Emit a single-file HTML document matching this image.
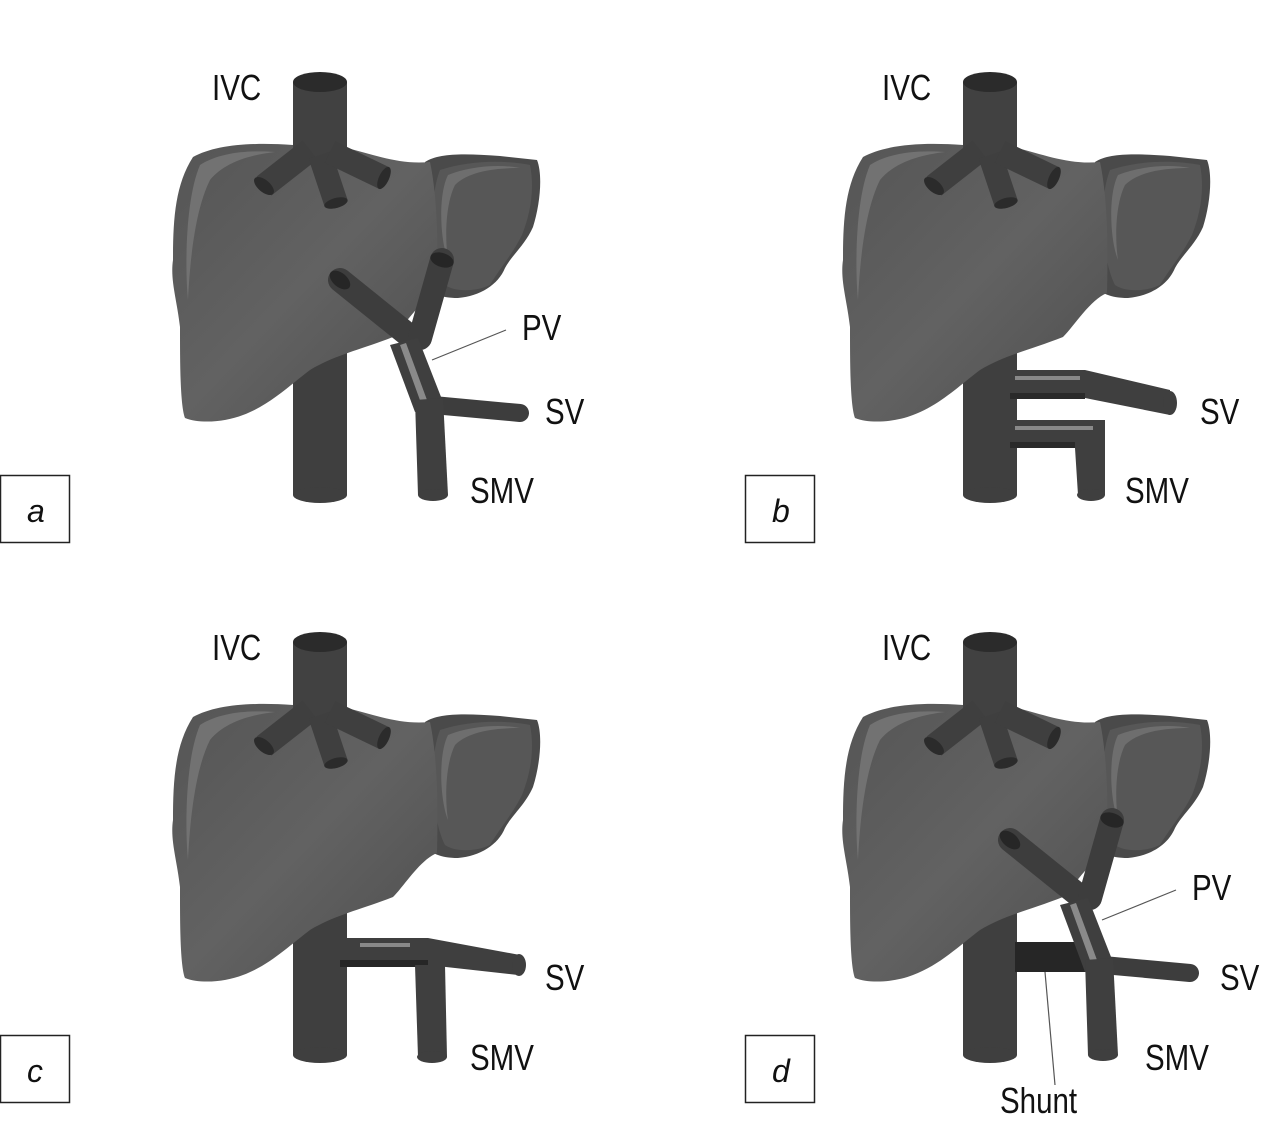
<!DOCTYPE html>
<html><head><meta charset="utf-8"><style>
html,body{margin:0;padding:0;background:#fff;}
svg{display:block;}
text{font-family:"Liberation Sans",sans-serif;fill:#111;}
</style></head><body>
<svg width="1287" height="1132" viewBox="0 0 1287 1132" xmlns="http://www.w3.org/2000/svg">
<defs>
<linearGradient id="lg" x1="0" y1="0" x2="1" y2="1">
<stop offset="0" stop-color="#555"/><stop offset="0.5" stop-color="#626262"/><stop offset="1" stop-color="#4e4e4e"/>
</linearGradient>
<g id="ivcLow">
<rect x="293" y="150" width="54" height="345" fill="#3f3f3f"/>
<ellipse cx="320" cy="495" rx="27" ry="8" fill="#3f3f3f"/>
</g>
<g id="liver">
<path d="M425,162 C440,152 470,154 500,156 L537,160 C543,175 540,205 533,227 C525,245 512,255 505,268 C498,285 480,296 458,298 C440,298 430,293 425,285 Z" fill="#4a4a4a"/>
<path d="M440,170 C470,160 505,160 530,165 C535,190 530,215 522,235 C512,255 500,268 490,285 C475,292 455,292 445,285 C432,260 428,200 440,170 Z" fill="#575757"/>
<path d="M448,175 C470,166 500,164 520,168 C500,168 470,170 455,185 C445,205 445,240 448,260 C440,240 438,195 448,175 Z" fill="#6e6e6e"/>
<path d="M193,157 C215,145 250,142 293,145 L347,148 C375,155 400,165 430,162 C438,200 438,250 437,293 C420,300 405,325 393,337 C360,350 335,355 310,370 C290,385 270,405 243,415 C225,422 200,424 185,418 C180,405 180,360 180,327 C177,300 170,280 173,260 C173,220 175,185 193,157 Z" fill="url(#lg)"/>
<path d="M200,165 C220,152 250,150 275,152 C250,155 225,162 210,180 C195,210 190,260 188,300 C185,270 185,200 200,165 Z" fill="#727272"/>
</g>
<g id="ivcTop">
<rect x="293" y="82" width="54" height="75" fill="#414141"/>
<ellipse cx="320" cy="82" rx="27" ry="10" fill="#2b2b2b"/>
<g stroke="#3f3f3f" stroke-width="24" fill="none">
<line x1="310" y1="150" x2="264" y2="186"/>
<line x1="320" y1="155" x2="336" y2="203"/>
<line x1="330" y1="152" x2="384" y2="178"/>
</g>
<ellipse cx="264" cy="186" rx="6" ry="12" transform="rotate(-50 264 186)" fill="#2b2b2b"/>
<ellipse cx="336" cy="203" rx="12" ry="5" transform="rotate(-15 336 203)" fill="#2b2b2b"/>
<ellipse cx="384" cy="178" rx="5" ry="12" transform="rotate(25 384 178)" fill="#2b2b2b"/>
</g>
<g id="pv">
<g stroke="#3d3d3d" stroke-width="24" fill="none" stroke-linecap="round">
<line x1="340" y1="280" x2="412" y2="338"/>
<line x1="442" y1="260" x2="420" y2="338"/>
<line x1="433" y1="405" x2="520" y2="413" stroke-width="18"/>
</g>
<ellipse cx="340" cy="280" rx="12" ry="7" transform="rotate(40 340 280)" fill="#262626"/>
<ellipse cx="442" cy="260" rx="12" ry="7" transform="rotate(18 442 260)" fill="#262626"/>
<path d="M390,345 L418,338 L443,402 L415,412 Z" fill="#3f3f3f"/>
<path d="M400,345 L406,343 L427,400 L421,403 Z" fill="#8a8a8a"/>
<path d="M415,400 L443,398 L448,495 L418,495 Z" fill="#3f3f3f"/>
<ellipse cx="433" cy="495" rx="15" ry="6" fill="#3f3f3f"/>
<line x1="432" y1="360" x2="506" y2="330" stroke="#555" stroke-width="1.2"/>
</g>
<g id="labelsTop">
<text x="212" y="100" font-size="36" transform="translate(212 0) scale(0.82 1) translate(-212 0)">IVC</text>
</g>
</defs>

<g>
<use href="#ivcLow"/>
<use href="#liver"/>
<use href="#ivcTop"/>
<use href="#labelsTop"/>
<use href="#pv"/>
<text x="522" y="340" font-size="36" transform="translate(522 0) scale(0.82 1) translate(-522 0)">PV</text>
<text x="545" y="424" font-size="36" transform="translate(545 0) scale(0.82 1) translate(-545 0)">SV</text>
<text x="470" y="503" font-size="36" transform="translate(470 0) scale(0.82 1) translate(-470 0)">SMV</text>
<rect x="0.5" y="475.5" width="69" height="67" fill="none" stroke="#222" stroke-width="1.5"/>
<text x="27" y="522" font-size="32" font-style="italic">a</text>
</g>

<g transform="translate(670 0)">
<use href="#ivcLow"/>
<path d="M340,370 L415,370 L500,390 L500,415 L415,398 L340,398 Z" fill="#3f3f3f"/>
<rect x="340" y="393" width="75" height="6" fill="#2a2a2a"/>
<ellipse cx="500" cy="403" rx="7" ry="12" fill="#3f3f3f"/>
<rect x="345" y="376" width="65" height="4" fill="#aaa" opacity="0.7"/>
<path d="M340,420 L435,420 L435,495 L408,495 L405,448 L340,448 Z" fill="#3f3f3f"/>
<rect x="340" y="442" width="65" height="6" fill="#2a2a2a"/>
<ellipse cx="421" cy="495" rx="14" ry="6" fill="#3f3f3f"/>
<rect x="345" y="426" width="78" height="4" fill="#aaa" opacity="0.7"/>
<use href="#liver"/>
<use href="#ivcTop"/>
<use href="#labelsTop"/>
<text x="530" y="424" font-size="36" transform="translate(530 0) scale(0.82 1) translate(-530 0)">SV</text>
<text x="455" y="503" font-size="36" transform="translate(455 0) scale(0.82 1) translate(-455 0)">SMV</text>
<rect x="75.5" y="475.5" width="69" height="67" fill="none" stroke="#222" stroke-width="1.5"/>
<text x="102" y="522" font-size="32" font-style="italic">b</text>
</g>

<g transform="translate(0 560)">
<use href="#ivcLow"/>
<path d="M340,378 L428,378 L520,395 L518,415 L428,405 L340,405 Z" fill="#3f3f3f"/>
<rect x="340" y="400" width="88" height="7" fill="#262626"/>
<ellipse cx="519" cy="405" rx="7" ry="11" fill="#3f3f3f"/>
<rect x="360" y="383" width="50" height="4" fill="#aaa" opacity="0.7"/>
<path d="M415,405 L445,405 L447,497 L418,497 Z" fill="#3f3f3f"/>
<ellipse cx="432" cy="497" rx="15" ry="6" fill="#3f3f3f"/>
<use href="#liver"/>
<use href="#ivcTop"/>
<use href="#labelsTop"/>
<text x="545" y="430" font-size="36" transform="translate(545 0) scale(0.82 1) translate(-545 0)">SV</text>
<text x="470" y="510" font-size="36" transform="translate(470 0) scale(0.82 1) translate(-470 0)">SMV</text>
<rect x="0.5" y="475.5" width="69" height="67" fill="none" stroke="#222" stroke-width="1.5"/>
<text x="27" y="522" font-size="32" font-style="italic">c</text>
</g>

<g transform="translate(670 560)">
<use href="#ivcLow"/>
<rect x="345" y="382" width="72" height="30" fill="#262626"/>
<use href="#liver"/>
<use href="#ivcTop"/>
<use href="#labelsTop"/>
<use href="#pv"/>
<line x1="375" y1="412" x2="385" y2="525" stroke="#555" stroke-width="1.2"/>
<text x="522" y="340" font-size="36" transform="translate(522 0) scale(0.82 1) translate(-522 0)">PV</text>
<text x="550" y="430" font-size="36" transform="translate(550 0) scale(0.82 1) translate(-550 0)">SV</text>
<text x="475" y="510" font-size="36" transform="translate(475 0) scale(0.82 1) translate(-475 0)">SMV</text>
<text x="330" y="553" font-size="36" transform="translate(330 0) scale(0.82 1) translate(-330 0)">Shunt</text>
<rect x="75.5" y="475.5" width="69" height="67" fill="none" stroke="#222" stroke-width="1.5"/>
<text x="102" y="522" font-size="32" font-style="italic">d</text>
</g>
</svg>
</body></html>
